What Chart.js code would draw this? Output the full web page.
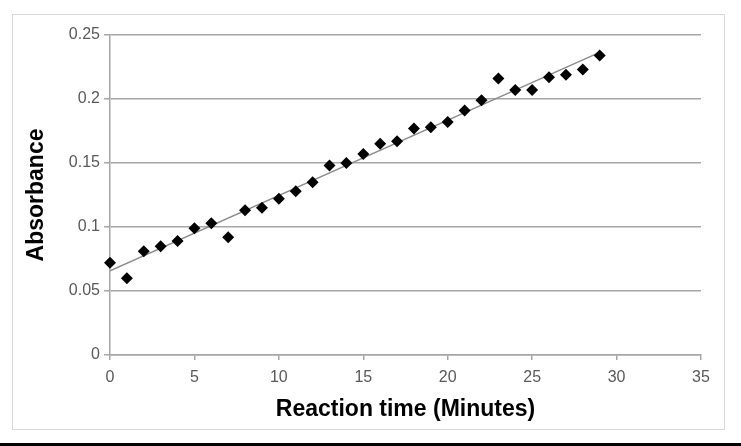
<!DOCTYPE html>
<html>
<head>
<meta charset="utf-8">
<script src="https://cdn.jsdelivr.net/npm/chart.js@4"></script>
<style>
  html, body { margin: 0; padding: 0; background: #fff; }
  #wrap { position: relative; width: 741px; height: 446px; overflow: hidden; }
  #frame { position: absolute; left: 12px; top: 14px; width: 711px; height: 414px; border: 1px solid #d9d9d9; }
  #bar { position: absolute; left: 0; top: 443px; width: 741px; height: 3px; background: #000; }
  #chart { position: absolute; left: 0; top: 0; }
</style>
</head>
<body>
<div id="wrap">
  <div id="frame"></div>
  <canvas id="chart" width="741" height="446"></canvas>
  <div id="bar"></div>
</div>
<script>
// Data
const times = [0, 1, 2, 3, 4, 5, 6, 7, 8, 9, 10, 11, 12, 13, 14, 15, 16, 17, 18, 19, 20, 21, 22, 23, 24, 25, 26, 27, 28, 29];
const absorbance = [0.072, 0.060, 0.081, 0.085, 0.089, 0.099, 0.103, 0.092, 0.113, 0.115, 0.122, 0.128, 0.135, 0.148, 0.150,
  0.157, 0.165, 0.167, 0.177, 0.178, 0.182, 0.191, 0.199, 0.216, 0.207, 0.207, 0.217, 0.219, 0.223, 0.234];
const xTicks = [0, 5, 10, 15, 20, 25, 30, 35];
const yTicks = [0, 0.05, 0.1, 0.15, 0.2, 0.25];

// Linear trendline (least squares), like Excel's
function linearFit(xs, ys) {
  const n = xs.length;
  let sx = 0, sy = 0, sxx = 0, sxy = 0;
  for (let i = 0; i < n; i++) {
    sx += xs[i]; sy += ys[i];
    sxx += xs[i] * xs[i]; sxy += xs[i] * ys[i];
  }
  const slope = (n * sxy - sx * sy) / (n * sxx - sx * sx);
  const intercept = (sy - slope * sx) / n;
  return { slope, intercept };
}

const fit = linearFit(times, absorbance);
const xFirst = times[0], xLast = times[times.length - 1];
const trend = [
  { x: xFirst, y: fit.intercept + fit.slope * xFirst },
  { x: xLast, y: fit.intercept + fit.slope * xLast }
];

const gridGray = '#a6a6a6';
const tickGray = '#595959';

new Chart(document.getElementById('chart').getContext('2d'), {
  type: 'scatter',
  data: {
    datasets: [{
      label: 'Absorbance',
      data: times.map((t, i) => ({ x: t, y: absorbance[i] })),
      pointStyle: 'rectRot',
      pointRadius: 6,
      backgroundColor: '#000',
      borderColor: '#000',
      borderWidth: 0,
      clip: false,
      order: 1
    }, {
      label: 'Linear',
      type: 'line',
      data: trend,
      borderColor: '#8c8c8c',
      borderWidth: 1.5,
      pointRadius: 0,
      fill: false,
      order: 2
    }]
  },
  options: {
    responsive: false,
    animation: false,
    layout: { padding: { left: 0, top: 35, right: 40, bottom: 0 } },
    plugins: {
      legend: { display: false },
      tooltip: { enabled: false }
    },
    scales: {
      x: {
        type: 'linear',
        min: 0,
        max: 35,
        afterBuildTicks: (scale) => { scale.ticks = xTicks.map(v => ({ value: v })); },
        afterFit: (scale) => { scale.height = 91; },
        ticks: {
          color: tickGray,
          font: { family: 'Liberation Sans', size: 16 },
          padding: 8,
          maxRotation: 0
        },
        grid: {
          drawOnChartArea: false,
          drawTicks: true,
          tickLength: 5,
          color: gridGray,
          lineWidth: 1.5
        },
        border: { color: gridGray, width: 1.5 },
        title: {
          display: true,
          text: 'Reaction time (Minutes)',
          color: '#000',
          font: { family: 'Liberation Sans', size: 23, weight: 'bold' },
          padding: { top: 0, bottom: 23 }
        }
      },
      y: {
        min: 0,
        max: 0.25,
        afterBuildTicks: (scale) => { scale.ticks = yTicks.map(v => ({ value: v })); },
        afterFit: (scale) => { scale.width = 110; },
        ticks: {
          color: tickGray,
          font: { family: 'Liberation Sans', size: 16 },
          padding: 4,
          callback: (v) => String(+v.toFixed(2))
        },
        grid: {
          drawOnChartArea: true,
          drawTicks: true,
          tickLength: 6,
          color: gridGray,
          lineWidth: 1.5
        },
        border: { color: gridGray, width: 1.5 },
        title: {
          display: true,
          text: 'Absorbance',
          color: '#000',
          font: { family: 'Liberation Sans', size: 23, weight: 'bold' },
          padding: { top: 23, bottom: 0 }
        }
      }
    }
  }
});
</script>
</body>
</html>
